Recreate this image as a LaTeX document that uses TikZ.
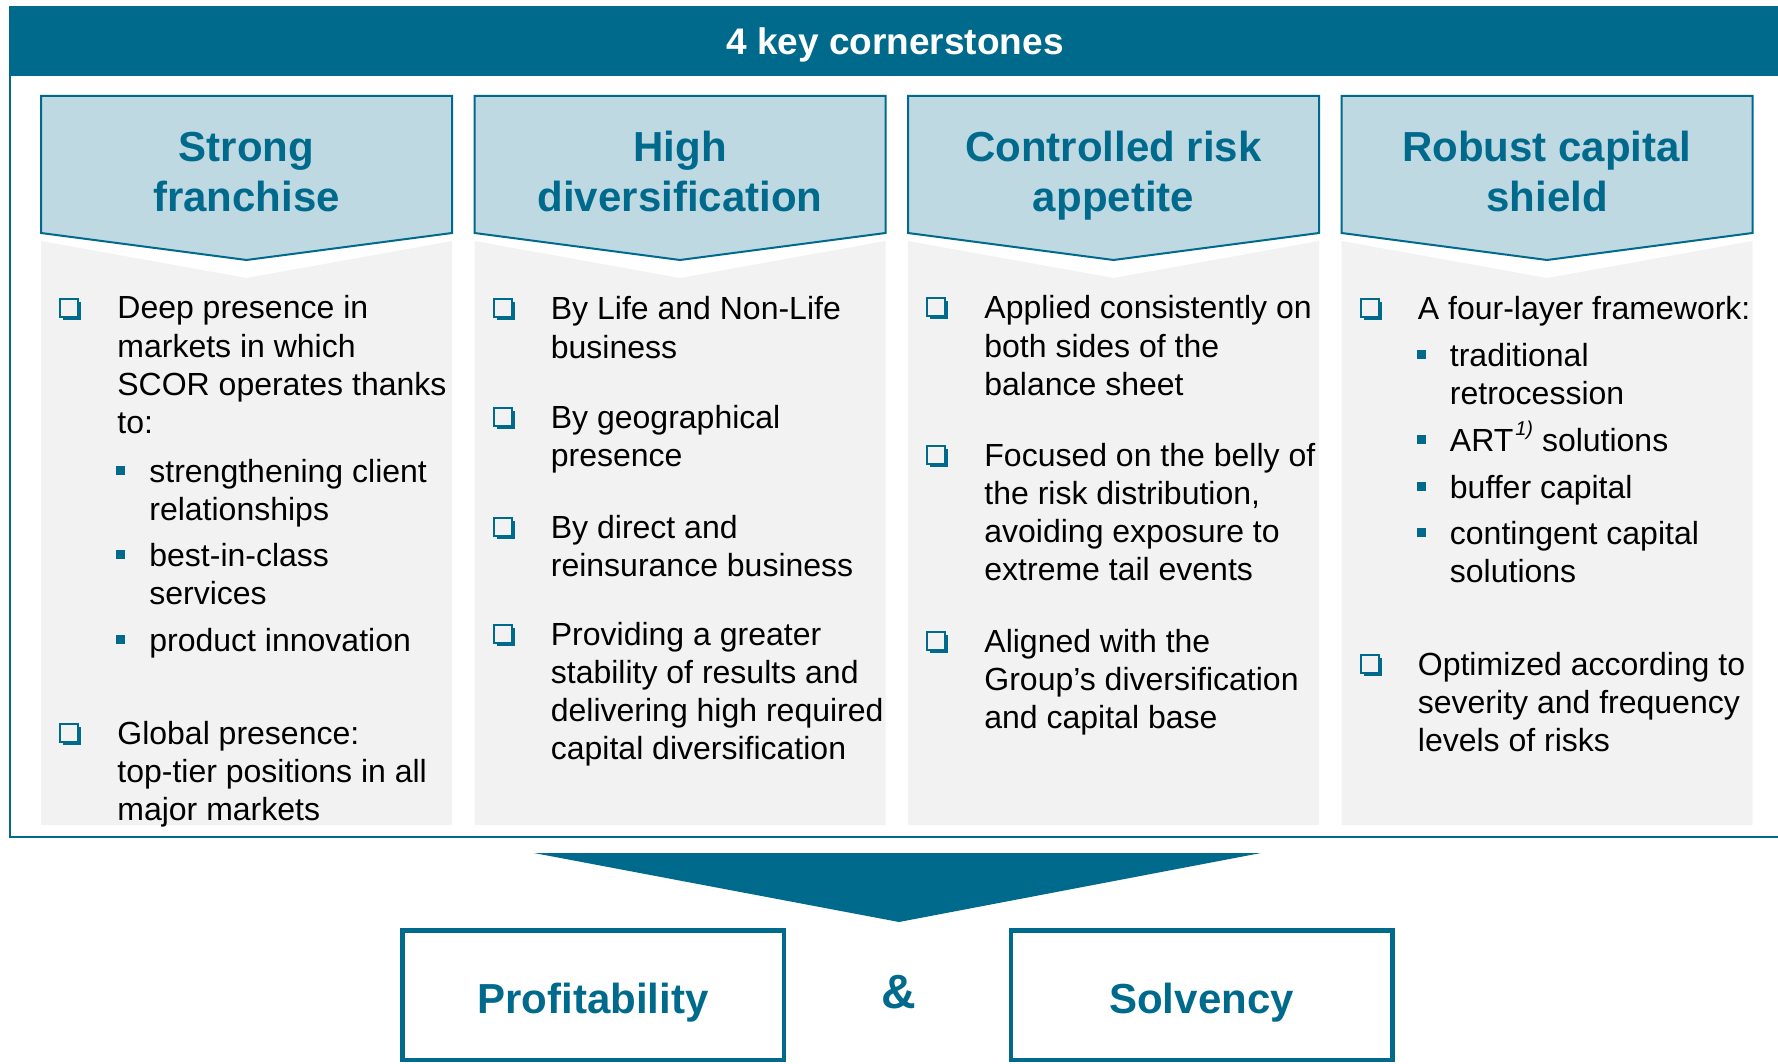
\documentclass[tikz,border=0pt]{standalone}
\usepackage{fontspec}
\setmainfont{Liberation Sans}
\usepackage{tikz}
\usetikzlibrary{shadows}

\definecolor{scorblue}{RGB}{0,106,141}
\definecolor{chevblue}{RGB}{191,217,227}
\definecolor{panelgrey}{RGB}{242,242,242}

\newcommand{\leftlines}[1]{\begin{tabular}[t]{@{}l@{}}#1\end{tabular}}
\newcommand{\centrelines}[1]{\begin{tabular}[t]{@{}c@{}}#1\end{tabular}}

\begin{document}
\begin{tikzpicture}[x=0.5pt,y=-0.5pt,
  body/.style={anchor=base west,inner sep=0pt,font=\fontsize{16pt}{19.15pt}\selectfont},
  heading/.style={anchor=base,inner sep=0pt,text=scorblue,font=\fontsize{21pt}{25pt}\selectfont\bfseries},
  qbox/.style={draw=scorblue,line width=1pt,fill=panelgrey,minimum size=9pt,inner sep=0pt,
    drop shadow={shadow xshift=1.5pt,shadow yshift=-1.5pt,fill=scorblue,opacity=1}},
  sqdot/.style={fill=scorblue,minimum size=4.5pt,inner sep=0pt},
  chevron/.style={draw=scorblue,line width=1pt,fill=chevblue},
  panel/.style={fill=panelgrey},
  result/.style={draw=scorblue,line width=2.25pt,minimum width=190.75pt,minimum height=64.75pt,
    text height=18pt,text depth=0pt,text=scorblue,font=\fontsize{21pt}{25pt}\selectfont\bfseries}]

  \useasboundingbox (0,0) rectangle (1778,1064);
  \clip (0,0) rectangle (1778,1064);

  \fill[scorblue] (10,6) rectangle (1800,76);
  \draw[scorblue,line width=1pt] (10,6) -- (10,837) -- (1800,837);
  \node[anchor=base,inner sep=0pt,text=white,font=\fontsize{18.5pt}{22pt}\selectfont\bfseries] (title) at (895,55) {4 key cornerstones};

  \fill[panel] (41,241) -- (246.5,278) -- (452,241) -- (452,825) -- (41,825) -- cycle;
  \fill[panel] (474.5,241) -- (680,278) -- (885.5,241) -- (885.5,825) -- (474.5,825) -- cycle;
  \fill[panel] (908,241) -- (1113.5,278) -- (1319,241) -- (1319,825) -- (908,825) -- cycle;
  \fill[panel] (1341.5,241) -- (1547,278) -- (1752.5,241) -- (1752.5,825) -- (1341.5,825) -- cycle;

  \filldraw[chevron] (41,96) -- (452,96) -- (452,233) -- (246.5,260) -- (41,233) -- cycle;
  \filldraw[chevron] (474.5,96) -- (885.5,96) -- (885.5,233) -- (680,260) -- (474.5,233) -- cycle;
  \filldraw[chevron] (908,96) -- (1319,96) -- (1319,233) -- (1113.5,260) -- (908,233) -- cycle;
  \filldraw[chevron] (1341.5,96) -- (1752.5,96) -- (1752.5,233) -- (1547,260) -- (1341.5,233) -- cycle;

  \node[heading] (franchise) at (246.5,162) {\centrelines{Strong\\franchise}};
  \node[heading] (diversif) at (680,162) {\centrelines{High\\diversification}};
  \node[heading] (riskapp) at (1113.5,162) {\centrelines{Controlled risk\\appetite}};
  \node[heading] (shield) at (1547,162) {\centrelines{Robust capital\\shield}};

  \node[qbox] (qa1) at (69,308.5) {};
  \node[body] (ta1) at (117,319) {\leftlines{Deep presence in\\markets in which\\SCOR operates thanks\\to:}};
  \node[sqdot] (sa1) at (120.5,470.5) {};
  \node[body] (ua1) at (149,482) {\leftlines{strengthening client\\relationships}};
  \node[sqdot] (sa2) at (120.5,554.5) {};
  \node[body] (ua2) at (149,566) {\leftlines{best-in-class\\services}};
  \node[sqdot] (sa3) at (120.5,639.5) {};
  \node[body] (ua3) at (149,651) {product innovation};
  \node[qbox] (qa2) at (69,732.5) {};
  \node[body] (ta2) at (117,744) {\leftlines{Global presence:\\top-tier positions in all\\major markets}};

  \node[qbox] (qb1) at (502.5,308.5) {};
  \node[body] (tb1) at (550.5,320) {\leftlines{By Life and Non-Life\\business}};
  \node[qbox] (qb2) at (502.5,416.5) {};
  \node[body] (tb2) at (550.5,428) {\leftlines{By geographical\\presence}};
  \node[qbox] (qb3) at (502.5,526.5) {};
  \node[body] (tb3) at (550.5,538) {\leftlines{By direct and\\reinsurance business}};
  \node[qbox] (qb4) at (502.5,633.5) {};
  \node[body] (tb4) at (550.5,645) {\leftlines{Providing a greater\\stability of results and\\delivering high required\\capital diversification}};

  \node[qbox] (qc1) at (936,307.5) {};
  \node[body] (tc1) at (984,319) {\leftlines{Applied consistently on\\both sides of the\\balance sheet}};
  \node[qbox] (qc2) at (936,454.5) {};
  \node[body] (tc2) at (984,466) {\leftlines{Focused on the belly of\\the risk distribution,\\avoiding exposure to\\extreme tail events}};
  \node[qbox] (qc3) at (936,640.5) {};
  \node[body] (tc3) at (984,652) {\leftlines{Aligned with the\\Group’s diversification\\and capital base}};

  \node[qbox] (qd1) at (1369.5,308.5) {};
  \node[body] (td1) at (1417.5,320) {A four-layer framework:};
  \node[sqdot] (sd1) at (1421,354.5) {};
  \node[body] (ud1) at (1449.5,366) {\leftlines{traditional\\retrocession}};
  \node[sqdot] (sd2) at (1421,439.5) {};
  \node[body] (ud2) at (1449.5,451) {ART\kern1pt\raisebox{0.9ex}{\fontsize{10pt}{10pt}\selectfont\itshape 1)} solutions};
  \node[sqdot] (sd3) at (1421,486.5) {};
  \node[body] (ud3) at (1449.5,498) {buffer capital};
  \node[sqdot] (sd4) at (1421,532.5) {};
  \node[body] (ud4) at (1449.5,544) {\leftlines{contingent capital\\solutions}};
  \node[qbox] (qd2) at (1369.5,663.5) {};
  \node[body] (td2) at (1417.5,675) {\leftlines{Optimized according to\\severity and frequency\\levels of risks}};

  \fill[scorblue] (534,853) -- (1261,853) -- (899,922) -- cycle;

  \node[result] (profit) at (593,995) {Profitability};
  \node[result] (solvency) at (1201.5,995) {Solvency};
  \node[anchor=base,inner sep=0pt,text=scorblue,font=\fontsize{24pt}{28pt}\selectfont\bfseries] (amp) at (899,1008) {\&};

\end{tikzpicture}
\end{document}
